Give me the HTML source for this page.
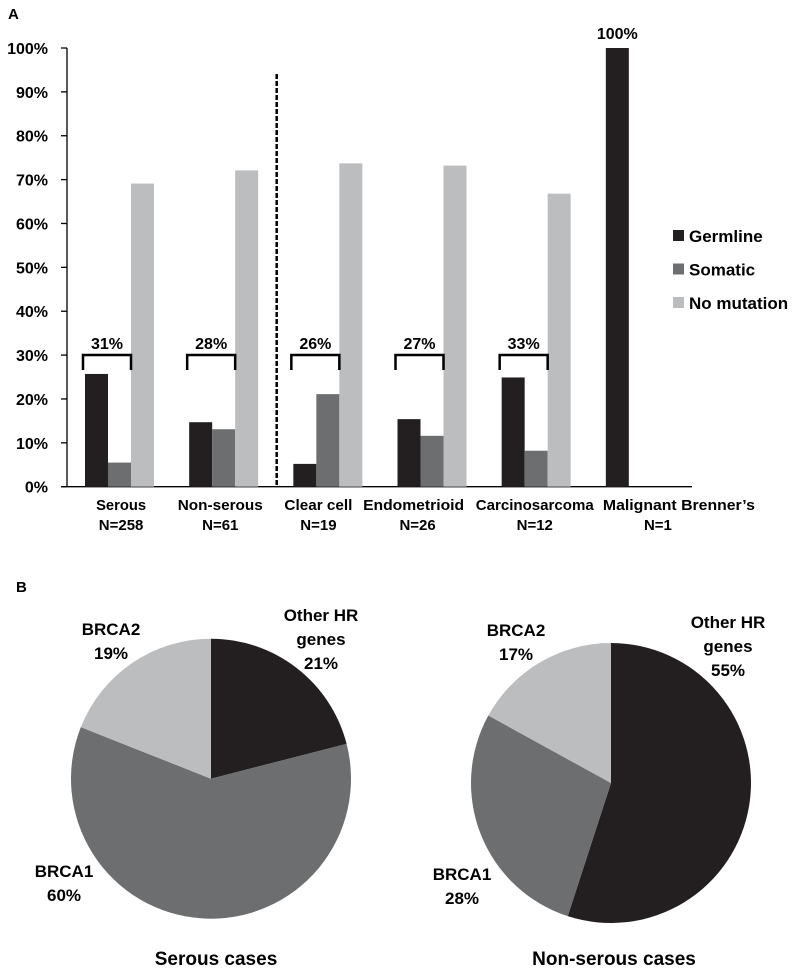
<!DOCTYPE html>
<html><head><meta charset="utf-8"><style>
body{margin:0;background:#fff}
svg{display:block;font-family:"Liberation Sans",sans-serif;font-weight:bold}
</style></head><body>
<svg id="chart" width="800" height="970" xmlns="http://www.w3.org/2000/svg">
<text x="8" y="19" font-size="15">A</text>
<text x="16" y="592" font-size="15">B</text>
<g id="bars"></g>
<g id="pies"></g>
</svg>
<script>
const categories=["Serous","Non-serous","Clear cell","Endometrioid","Carcinosarcoma","Malignant Brenner\u2019s"];
const nLabels=["N=258","N=61","N=19","N=26","N=12","N=1"];
const germline=[25.7,14.7,5.2,15.4,24.9,100];
const somatic=[5.5,13.1,21.1,11.6,8.2,0];
const noMutation=[69.1,72.1,73.7,73.2,66.8,0];
const bracketLabels=["31%","28%","26%","27%","33%",""];
const topLabels=["","","","","","100%"];
const yTicks=[0,10,20,30,40,50,60,70,80,90,100];
const seriesNames=["Germline","Somatic","No mutation"];
const seriesColors=["#231f20","#6d6e70","#bcbdbf"];
const pie1Labels=["Other HR genes","BRCA1","BRCA2"];
const pie1Values=[21,60,19];
const pie2Labels=["Other HR genes","BRCA1","BRCA2"];
const pie2Values=[55,28,17];
const pieColors=["#231f20","#6d6e70","#bcbdbf"];
// label layout (offsets from band centre, text widths)
const labelShift=[2,-3,-9,-18,-1,39];
const nShift=[2,-3,-9,-14,-1,18];
const labelWidth=[50,85,68,101,118,152];

const NS="http://www.w3.org/2000/svg";
function mk(tag,attrs,parent,text){const e=document.createElementNS(NS,tag);for(const k in attrs)e.setAttribute(k,attrs[k]);if(text!==undefined)e.textContent=text;parent.appendChild(e);return e;}
const x0=67,x1=692,yBase=486.7,yTop=48;
const y=v=>yBase-(yBase-yTop)*v/100;
const band=(x1-x0)/categories.length;
const bw=23;
const g=document.getElementById('bars');
let e=mk('line',{x1:x0,y1:yTop,x2:x0,y2:yBase,stroke:'#000','stroke-width':1.3},g);


e=mk('line',{x1:x0-6,y1:yBase,x2:x1,y2:yBase,stroke:'#000','stroke-width':1.3},g);


yTicks.forEach(t=>{
  let l=mk('line',{x1:x0-6,y1:y(t),x2:x0,y2:y(t),stroke:'#000','stroke-width':1.3},g);
  
  
  let tx=mk('text',{x:48,y:y(t)+6,'font-size':16,'text-anchor':'end'},g,t+'%');
  
  
});
const series=[germline,somatic,noMutation];
categories.forEach((c,i)=>{
  const gx=x0+band*i+18;
  series.forEach((s,j)=>{
    if(s[i]<=0)return;
    const r=mk('rect',{x:gx+j*bw,y:y(s[i]),width:bw,height:yBase-y(s[i]),fill:seriesColors[j]},g);
    
    
  });
  const cx=x0+band*(i+0.5);
  let t=mk('text',{x:cx+labelShift[i],y:510,'font-size':15,'text-anchor':'middle',textLength:labelWidth[i],lengthAdjust:'spacingAndGlyphs'},g,c);
  
  
  t=mk('text',{x:cx+nShift[i],y:530,'font-size':15,'text-anchor':'middle'},g,nLabels[i]);
  
  
  if(bracketLabels[i]){
    const bx0=gx-2,bx1=gx+2*bw;
    const p=mk('path',{d:`M${bx0} 370 V355 H${bx1} V370`,fill:'none',stroke:'#000','stroke-width':2.5},g);
    
    
    t=mk('text',{x:(bx0+bx1)/2,y:349,'font-size':16,'text-anchor':'middle'},g,bracketLabels[i]);
    
    
  }
  if(topLabels[i]){
    t=mk('text',{x:gx+bw/2,y:y(germline[i])-9,'font-size':16,'text-anchor':'middle'},g,topLabels[i]);
    
    
  }
});
e=mk('line',{x1:276.7,y1:74,x2:276.7,y2:yBase,stroke:'#000','stroke-width':2.5,'stroke-dasharray':'5,2'},g);


seriesNames.forEach((n,j)=>{
  const ly=230+j*33.5;
  let r=mk('rect',{x:673,y:ly,width:11,height:11,fill:seriesColors[j]},g);
  
  
  let t=mk('text',{x:689,y:ly+12,'font-size':17},g,n);
  
  
});
const pg=document.getElementById('pies');
function pie(cx,cy,r,vals,labels,name,labelPos){
  let a=0;const tot=vals.reduce((s,v)=>s+v,0);
  vals.forEach((v,i)=>{
    const a0=a,a1=a+v/tot*2*Math.PI;a=a1;
    const p0=[cx+r*Math.sin(a0),cy-r*Math.cos(a0)],p1=[cx+r*Math.sin(a1),cy-r*Math.cos(a1)];
    const large=(a1-a0)>Math.PI?1:0;
    const s=mk('path',{d:`M${cx} ${cy} L${p0[0]} ${p0[1]} A${r} ${r} 0 ${large} 1 ${p1[0]} ${p1[1]} Z`,fill:pieColors[i]},pg);
    
    
    const lp=labelPos[i];
    const lines=labels[i]==='Other HR genes'?['Other HR','genes',v+'%']:[labels[i],v+'%'];
    lines.forEach((ln,k)=>{
      const t=mk('text',{x:lp[0],y:lp[1]+k*24,'font-size':17,'text-anchor':'middle'},pg,ln);
      
      
    });
  });
}
pie(211,778.7,140,pie1Values,pie1Labels,'serous-pie',[[321,621],[64,877],[111,635]]);
pie(611,783,140,pie2Values,pie2Labels,'non-serous-pie',[[728,628],[462,880],[516,636]]);
e=mk('text',{x:216,y:965,'font-size':19,'text-anchor':'middle'},pg,'Serous cases');


e=mk('text',{x:614,y:965,'font-size':19,'text-anchor':'middle'},pg,'Non-serous cases');


</script>
</body></html>
